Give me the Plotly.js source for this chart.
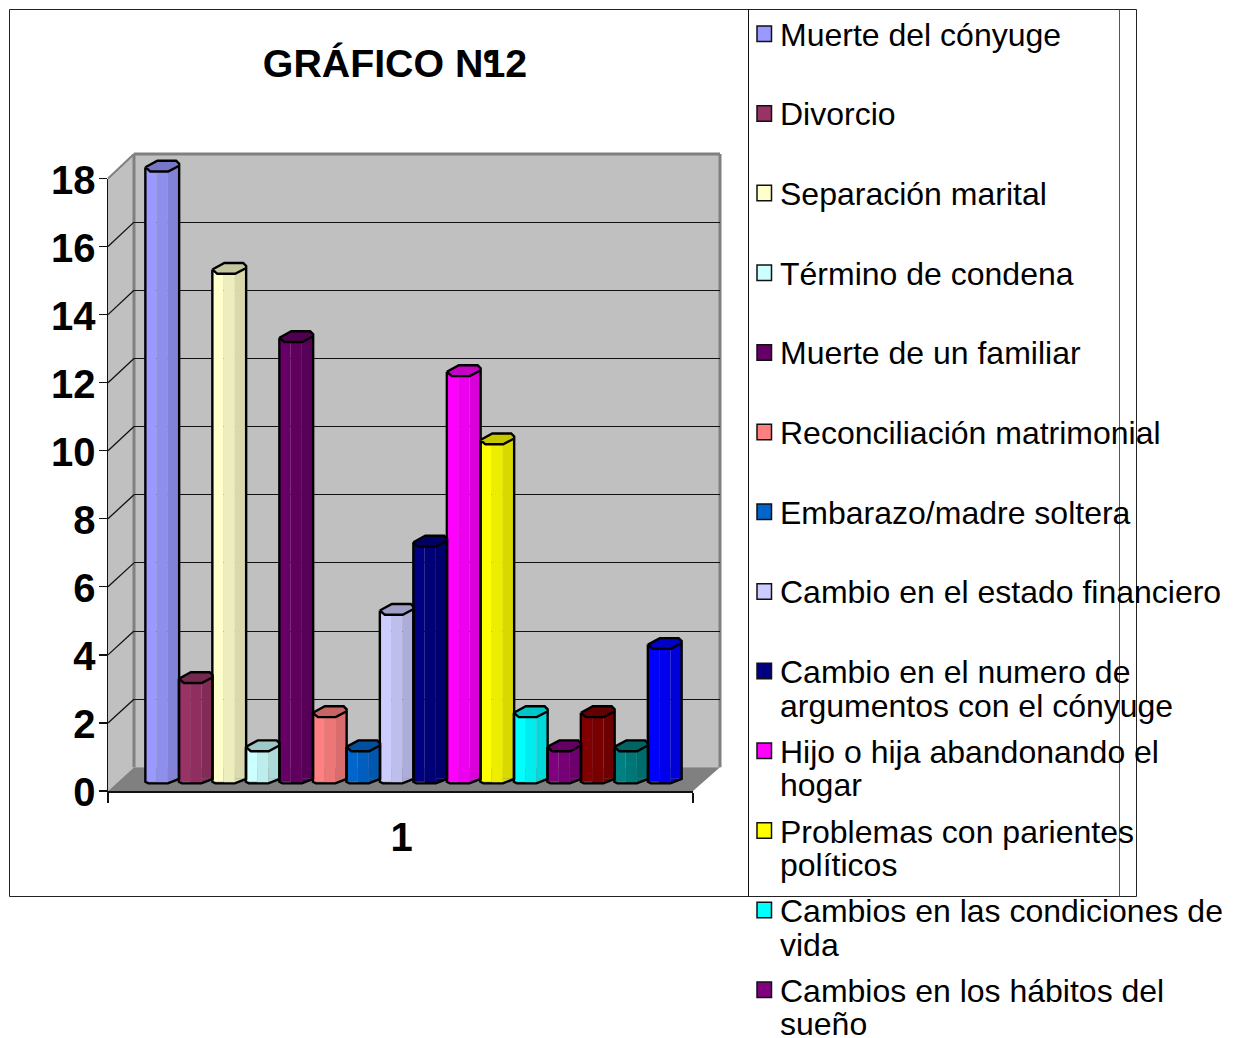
<!DOCTYPE html>
<html>
<head>
<meta charset="utf-8">
<script src="https://cdn.plot.ly/plotly-3.0.1.min.js"></script>
<style>html,body{margin:0;padding:0;background:#fff;overflow:hidden}</style>
</head>
<body>
<div id="chart" style="width:1241px;height:1038px"></div>
<script>
const categories = ["1"];
const yTicks = [0, 2, 4, 6, 8, 10, 12, 14, 16, 18];
const seriesValues = [18, 3, 15, 1, 13, 2, 1, 5, 7, 12, 10, 2, 1, 2, 1, 4];
const seriesColors = ["#9999FF", "#993366", "#FFFFCC", "#CCFFFF", "#660066", "#FF8080", "#0066CC", "#CCCCFF",
                      "#000080", "#FF00FF", "#FFFF00", "#00FFFF", "#800080", "#800000", "#008080", "#0000FF"];
const legendLabels = [
  "Muerte del cónyuge", "Divorcio", "Separación marital", "Término de condena", "Muerte de un familiar",
  "Reconciliación matrimonial", "Embarazo/madre soltera", "Cambio en el estado financiero",
  "Cambio en el numero de\nargumentos con el cónyuge", "Hijo o hija abandonando el\nhogar",
  "Problemas con parientes\npolíticos", "Cambios en las condiciones de\nvida", "Cambios en los hábitos del\nsueño"
];
const titleText = 'GRÁFICO N<span style="letter-spacing:-14.3px">º</span>12';

const W = 1241, H = 1038;
const px = x => x / W, py = y => 1 - y / H;
const FONT = '"Liberation Sans", Arial, sans-serif';

function shade(hex, f) {
  const n = parseInt(hex.slice(1), 16);
  const c = [n >> 16, (n >> 8) & 255, n & 255].map(v => Math.round(v * f));
  return `rgb(${c[0]},${c[1]},${c[2]})`;
}

// geometry of the three depth planes
const wall = {l: 134, r: 720, b: 767.3, t: 154};
const front = {l: 108, r: 693, b: 791, t: 178.5};
const barBox = {l: 134, r: 720, b: 790, t: 150, x0: 162.25, pitch: 33.5, y0: 781, unit: 34.1};
const xr3 = [(barBox.l - barBox.x0) / barBox.pitch, (barBox.r - barBox.x0) / barBox.pitch];
const yr3 = [(barBox.y0 - barBox.b) / barBox.unit, (barBox.y0 - barBox.t) / barBox.unit];
const hw = 16.9 / barBox.pitch;         // half bar width in axis units
const uy = p => p / barBox.unit;        // pixels -> value units

const traces = [];
// helper traces that make the wall and front subplots exist
traces.push({type: "scatter", x: [0], y: [0], xaxis: "x", yaxis: "y", mode: "none", hoverinfo: "skip", showlegend: false});
traces.push({type: "scatter", x: categories, y: [0], xaxis: "x2", yaxis: "y2", mode: "none", hoverinfo: "skip", showlegend: false});

seriesValues.forEach((v, i) => {
  const col = seriesColors[i];
  const name = legendLabels[i] ? legendLabels[i].replace("\n", " ") : "";
  const x0 = i - hw, x1 = i + hw, w3 = 2 * hw / 3;
  const facets = [1, 0.93, 0.85].map(f => shade(col, f));
  const bases = [-0.02, -0.07, 0.07];
  // cylinder body: three facets
  traces.push({
    type: "bar", xaxis: "x3", yaxis: "y3", name, showlegend: false, hoverinfo: "skip",
    x: [i - w3, i, i + w3], y: bases.map(b => v - b), base: bases, width: w3,
    marker: {color: facets, line: {width: 0}}
  });
  // chamfered foot of the right facet
  traces.push({
    type: "scatter", xaxis: "x3", yaxis: "y3", mode: "lines", fill: "toself", showlegend: false, hoverinfo: "skip",
    x: [x1 - w3, x1, x1 - w3], y: [bases[2], bases[2], bases[1]], line: {width: 0}, fillcolor: facets[2]
  });
  // outline
  traces.push({
    type: "scatter", xaxis: "x3", yaxis: "y3", mode: "lines", showlegend: false, hoverinfo: "skip",
    x: [x0, x0, x0 + uy(3) * barBox.unit / barBox.pitch, x1 - w3, x1, x1],
    y: [v, -0.02, -0.07, -0.07, 0.06, v + uy(1)],
    line: {color: "#000", width: 2.4}
  });
  // elliptical (octagonal) cap
  const dx = p => p / barBox.pitch;
  traces.push({
    type: "scatter", xaxis: "x3", yaxis: "y3", mode: "lines", fill: "toself", showlegend: false, hoverinfo: "skip",
    x: [x0, x0 + dx(12), x1 - dx(3), x1, x1, x1 - dx(11), x0 + dx(5), x0],
    y: [v, v + uy(6.5), v + uy(6.5), v + uy(3.5), v + uy(1.5), v - uy(4.3), v - uy(4.3), v],
    line: {color: "#000", width: 2.4}, fillcolor: shade(col, 0.78)
  });
});

const shapes = [];
const rect = (x0, y0, x1, y1, fill, line, lw, layer) => ({type: "rect", xref: "paper", yref: "paper",
  x0: px(x0), x1: px(x1), y0: py(y0), y1: py(y1), fillcolor: fill, line: {color: line, width: lw}, layer});
const poly = (pts, fill) => ({type: "path", xref: "paper", yref: "paper", layer: "below", fillcolor: fill, line: {width: 0},
  path: "M" + pts.map(p => px(p[0]) * 1 + "," + py(p[1]) * 1).join("L") + "Z"});
const seg = (x0, y0, x1, y1, color, lw, layer) => ({type: "line", xref: "paper", yref: "paper",
  x0: px(x0), x1: px(x1), y0: py(y0), y1: py(y1), line: {color, width: lw}, layer: layer || "below"});

// frame
shapes.push(rect(9.5, 9.5, 1136.5, 896.5, "#fff", "#222", 1, "below"));
shapes.push(seg(748.5, 9.5, 748.5, 896.5, "#111", 1));
shapes.push(seg(1119.5, 9.5, 1119.5, 896.5, "#555", 1));

// back wall, left wall, floor
shapes.push(rect(wall.l, wall.t, wall.r, wall.b, "#C0C0C0", "rgba(0,0,0,0)", 0, "below"));
shapes.push(poly([[front.l, front.b], [wall.l, wall.b], [wall.l, wall.t], [front.l, front.t]], "#C0C0C0"));
shapes.push(poly([[front.l, front.b], [wall.l, wall.b], [wall.r, wall.b], [front.r, front.b]], "#808080"));
shapes.push(seg(wall.l, wall.b, wall.l, wall.t, "#808080", 3));
shapes.push(seg(wall.l, wall.t, wall.r, wall.t, "#808080", 3));
shapes.push(seg(wall.r, wall.t, wall.r, wall.b, "#808080", 3));
shapes.push(seg(front.l, front.t, wall.l, wall.t, "#808080", 2));
yTicks.filter(t => t > 0 && t < 18).forEach(t => {
  const f = front.b - (front.b - front.t) * t / 18;
  const b = wall.b - (wall.b - wall.t) * t / 18;
  shapes.push(seg(front.l, f, wall.l, b, "#111", 1.3));
});

// legend built from the labels
const annotations = [];
const legendTop = 34.8, legendPitch = 79.67, lineStep = 34;
legendLabels.forEach((label, i) => {
  const yc = legendTop + i * legendPitch;
  shapes.push(rect(757, yc - 8.8, 771.5, yc + 6.7, seriesColors[i], "#111", 1.5, "above"));
  label.split("\n").forEach((line, k) => {
    annotations.push({
      xref: "paper", yref: "paper", x: px(778.6), y: py(yc + k * lineStep - (k ? 0.5 : 0)), xanchor: "left", yanchor: "middle",
      text: line, showarrow: false, font: {family: FONT, size: 32, color: "#000"}, borderpad: 0, align: "left"
    });
  });
});

const layout = {
  width: W, height: H, margin: {l: 0, r: 0, t: 0, b: 0}, paper_bgcolor: "#fff", plot_bgcolor: "rgba(0,0,0,0)",
  showlegend: false, barmode: "overlay",
  title: {text: titleText, x: px(395), y: py(63), xanchor: "center", yanchor: "middle", xref: "paper", yref: "paper",
          font: {family: FONT, size: 39.3, weight: "bold", color: "#000"}},
  xaxis: {domain: [px(wall.l), px(wall.r)], range: [0, 1], visible: false, anchor: "y", fixedrange: true},
  yaxis: {domain: [py(wall.b), py(wall.t)], range: [0, 18], anchor: "x", tickmode: "array",
          tickvals: yTicks.filter(t => t > 0 && t < 18), showticklabels: false, ticks: "", showline: false,
          zeroline: false, showgrid: true, gridcolor: "#111", gridwidth: 1, fixedrange: true},
  xaxis2: {domain: [px(front.l), px(front.r)], type: "category", categories: categories, range: [-0.5, 0.5], anchor: "y2",
           tickson: "boundaries", ticks: "outside", ticklen: 10, tickwidth: 1.3, tickcolor: "#111",
           showline: true, linecolor: "#111", linewidth: 1.5, showgrid: false, zeroline: false,
           ticklabelstandoff: 10, ticklabelshift: 1,
           tickfont: {family: FONT, size: 40, weight: "bold", color: "#000"}, fixedrange: true},
  yaxis2: {domain: [py(front.b), py(front.t)], range: [0, 18], anchor: "x2", tickmode: "array", tickvals: yTicks,
           ticks: "outside", ticklen: 8, tickwidth: 1.3, tickcolor: "#111", showline: true, linecolor: "#111", linewidth: 1.5,
           showgrid: false, zeroline: false, ticklabelstandoff: -5, ticklabelshift: 1,
           tickfont: {family: FONT, size: 40, weight: "bold", color: "#000"}, fixedrange: true},
  xaxis3: {domain: [px(barBox.l), px(barBox.r)], range: xr3, visible: false, anchor: "y3", fixedrange: true},
  yaxis3: {domain: [py(barBox.b), py(barBox.t)], range: yr3, visible: false, anchor: "x3", fixedrange: true},
  shapes, annotations
};

Plotly.newPlot("chart", traces, layout, {displayModeBar: false, staticPlot: true});
</script>
</body>
</html>
